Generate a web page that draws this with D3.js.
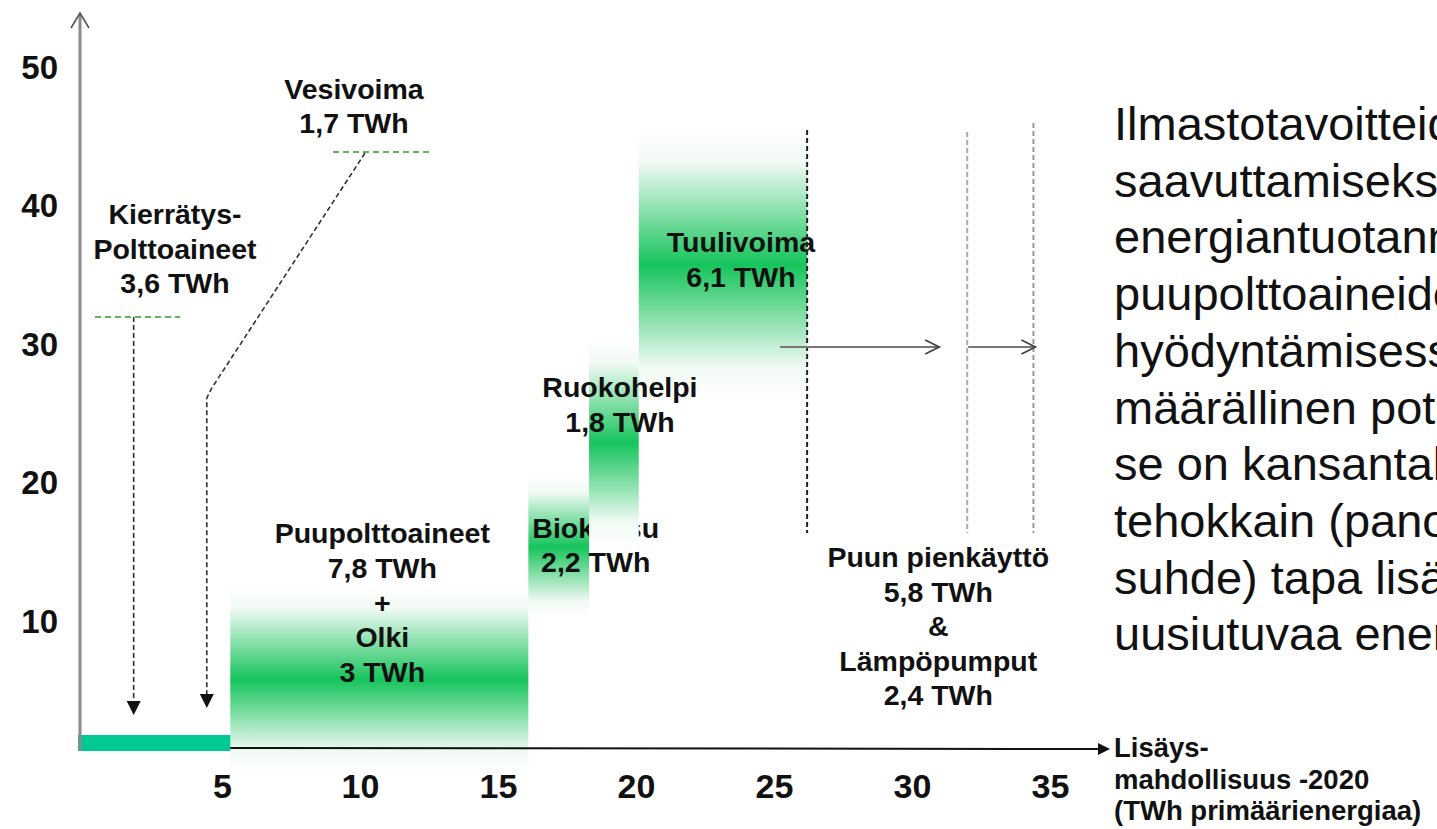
<!DOCTYPE html>
<html>
<head>
<meta charset="utf-8">
<script src="https://cdn.jsdelivr.net/npm/d3@7"></script>
<style>
  html, body { margin: 0; padding: 0; background: #fff; overflow: hidden; }
  svg { display: block; }
  text { font-family: "Liberation Sans", Arial, Helvetica, sans-serif; fill: #111; }
</style>
</head>
<body>
<svg id="chart" width="1437" height="829"></svg>
<script>
// Renewable energy additions up to 2020, TWh of primary energy, stacked along the x axis
const sources      = ["Kierrätyspolttoaineet", "Vesivoima", "Puupolttoaineet", "Olki", "Biokaasu", "Ruokohelpi", "Tuulivoima", "Puun pienkäyttö", "Lämpöpumput"];
const potentialTWh = [3.6, 1.7, 7.8, 3, 2.2, 1.8, 6.1, 5.8, 2.4];

// Fuzzy bands: which sources each band spans, and its vertical extent in axis units
const bandFirst = [2, 4, 5, 6];
const bandLast  = [3, 4, 5, 6];
const bandLow   = [-1, 10.2, 15.3, 26];
const bandHigh  = [12.6, 20.6, 30.5, 45.5];

const xTicks = [5, 10, 15, 20, 25, 30, 35];
const yTicks = [10, 20, 30, 40, 50];

const labelKierratys = ["Kierrätys-", "Polttoaineet", "3,6 TWh"];
const labelVesi      = ["Vesivoima", "1,7 TWh"];
const labelPuu       = ["Puupolttoaineet", "7,8 TWh", "+", "Olki", "3 TWh"];
const labelBio       = ["Biokaasu", "2,2 TWh"];
const labelRuoko     = ["Ruokohelpi", "1,8 TWh"];
const labelTuuli     = ["Tuulivoima", "6,1 TWh"];
const labelPien      = ["Puun pienkäyttö", "5,8 TWh", "&", "Lämpöpumput", "2,4 TWh"];
const axisTitle      = ["Lisäys-", "mahdollisuus -2020", "(TWh primäärienergiaa)"];
const sideText = [
  "Ilmastotavoitteiden",
  "saavuttamiseksi",
  "energiantuotannossa",
  "puupolttoaineiden",
  "hyödyntämisessä on",
  "määrällinen potentiaali ja",
  "se on kansantaloudellisesti",
  "tehokkain (panos/tuotos-",
  "suhde) tapa lisätä",
  "uusiutuvaa energiaa."
];

// ---- layout ----
const svg = d3.select("#chart");
const x = d3.scaleLinear().domain([0, 35]).range([84, 84 + 35 * 27.6]);
const y = d3.scaleLinear().domain([0, 50]).range([760, 67.5]);
const axisY = 748;          // baseline of the horizontal axis
const axisX = x(0) - 4;     // vertical axis position

const ends = Array.from(d3.cumsum(potentialTWh));
const starts = ends.map((e, i) => e - potentialTWh[i]);

const GREEN = "#16c45c";
const TEAL = "#00c994";

// vertical white-green-white fade
const defs = svg.append("defs");
const grad = defs.append("linearGradient").attr("id", "fade")
  .attr("x1", 0).attr("y1", 0).attr("x2", 0).attr("y2", 1);
[[0, "#ffffff"], [0.12, "#f1faf4"], [0.5, GREEN], [0.88, "#f1faf4"], [1, "#ffffff"]]
  .forEach(([o, c]) => grad.append("stop").attr("offset", o).attr("stop-color", c));

function multiline(g, lines, cx, firstBase, lh, size, anchor = "middle", weight = "bold") {
  const t = g.append("text")
    .attr("text-anchor", anchor)
    .attr("font-weight", weight)
    .attr("font-size", size);
  lines.forEach((s, i) => t.append("tspan").attr("x", cx).attr("y", firstBase + i * lh).text(s));
  return t;
}

function band(i) {
  const x0 = x(starts[bandFirst[i]]), x1 = x(ends[bandLast[i]]);
  svg.append("rect")
    .attr("x", x0).attr("width", x1 - x0)
    .attr("y", y(bandHigh[i])).attr("height", y(bandLow[i]) - y(bandHigh[i]))
    .attr("fill", "url(#fade)");
}

// ---- bands and their labels (drawing order matters for overlaps) ----
band(0);
band(1);
multiline(svg, labelBio, (x(starts[4]) + x(ends[4])) / 2 + 37, 538, 34, 28.5);
band(3);
band(2);
multiline(svg, labelPuu, (x(starts[2]) + x(ends[3])) / 2 + 3, 543, 34.8, 28.5);
multiline(svg, labelRuoko, (x(starts[5]) + x(ends[5])) / 2 + 6, 397, 35, 28.5);
multiline(svg, labelTuuli, (x(starts[6]) + x(ends[6])) / 2 + 18, 252, 35, 28.5);

// ---- axes ----
// teal bar for recycled fuels + hydro
svg.append("rect")
  .attr("x", axisX - 2).attr("width", x(ends[1]) - axisX + 2)
  .attr("y", axisY - 13).attr("height", 16)
  .attr("fill", TEAL);

// horizontal axis line with filled arrow
const xEnd = x(35) + 60;
svg.append("line")
  .attr("x1", x(ends[1])).attr("x2", xEnd - 8)
  .attr("y1", axisY).attr("y2", axisY + 1)
  .attr("stroke", "#111").attr("stroke-width", 2);
svg.append("path")
  .attr("d", `M${xEnd},${axisY + 1} L${xEnd - 12},${axisY - 5} L${xEnd - 12},${axisY + 7} Z`)
  .attr("fill", "#111");

// vertical axis with open arrow
svg.append("line")
  .attr("x1", axisX).attr("x2", axisX)
  .attr("y1", axisY + 3).attr("y2", 14)
  .attr("stroke", "#8a8a8a").attr("stroke-width", 3);
svg.append("path")
  .attr("d", `M${axisX - 9},${28} L${axisX},${13} L${axisX + 9},${28}`)
  .attr("fill", "none").attr("stroke", "#555").attr("stroke-width", 1.6);

const xAxis = svg.append("g")
  .attr("transform", `translate(0,${axisY})`)
  .call(d3.axisBottom(x).tickValues(xTicks).tickSize(0).tickPadding(26).tickFormat(d3.format("d")));
xAxis.select(".domain").remove();
xAxis.selectAll("text")
  .attr("font-size", 34).attr("font-weight", "bold").attr("fill", "#111")
  .style("font-family", '"Liberation Sans", Arial, sans-serif');

const yAxis = svg.append("g")
  .attr("transform", `translate(${axisX},0)`)
  .call(d3.axisLeft(y).tickValues(yTicks).tickSize(0).tickPadding(22).tickFormat(d3.format("d")));
yAxis.select(".domain").remove();
yAxis.selectAll("text")
  .attr("font-size", 33).attr("font-weight", "bold").attr("fill", "#111")
  .style("font-family", '"Liberation Sans", Arial, sans-serif');

multiline(svg, axisTitle, x(35) + 64, 757, 31.5, 27.5, "start");

// ---- annotations for recycled fuels and hydro ----
const midK = x(starts[0] + potentialTWh[0] / 2);
const midV = x(starts[1] + potentialTWh[1] / 2);

multiline(svg, labelKierratys, 175, 224, 34.5, 28.5);
multiline(svg, labelVesi, 354, 99, 34, 28.5);

svg.append("line").attr("x1", 95).attr("x2", 180).attr("y1", 317).attr("y2", 317)
  .attr("stroke", "#5cb85c").attr("stroke-width", 2).attr("stroke-dasharray", "6,4");
svg.append("line").attr("x1", 333).attr("x2", 430).attr("y1", 152).attr("y2", 152)
  .attr("stroke", "#5cb85c").attr("stroke-width", 2).attr("stroke-dasharray", "6,4");

const dashed = { stroke: "#333", "stroke-width": 1.6, "stroke-dasharray": "5,3", fill: "none" };
function styled(sel, o) { Object.entries(o).forEach(([k, v]) => sel.attr(k, v)); return sel; }

const tipK = 715, tipV = 708;
styled(svg.append("path").attr("d", `M${midK},317 L${midK},${tipK - 12}`), dashed);
styled(svg.append("path").attr("d", `M365,153 L${midV + 5},388 L${midV},398 L${midV},${tipV - 12}`), dashed);
[[midK, tipK], [midV, tipV]].forEach(([cx, tip]) =>
  svg.append("path")
    .attr("d", `M${cx - 7},${tip - 14} L${cx + 7},${tip - 14} L${cx},${tip} Z`)
    .attr("fill", "#111"));

// ---- small-scale wood use & heat pumps ----
const vTop = 130, vBottom = 533;
[[ends[6], "#222", vTop], [ends[7], "#aaa", vTop + 2], [ends[8], "#999", vTop - 7]].forEach(([v, c, top]) =>
  svg.append("line")
    .attr("x1", x(v)).attr("x2", x(v)).attr("y1", top).attr("y2", vBottom)
    .attr("stroke", c).attr("stroke-width", 2).attr("stroke-dasharray", "5,3"));

const arrowY = 347;
[[x(ends[6]) - 27, x(ends[7]) - 28], [x(ends[7]) + 1, x(ends[8]) + 2]].forEach(([a, b]) => {
  svg.append("line").attr("x1", a).attr("x2", b).attr("y1", arrowY).attr("y2", arrowY)
    .attr("stroke", "#777").attr("stroke-width", 2.2);
  svg.append("path")
    .attr("d", `M${b - 14},${arrowY - 7} L${b},${arrowY} L${b - 14},${arrowY + 7}`)
    .attr("fill", "none").attr("stroke", "#444").attr("stroke-width", 1.8);
});

multiline(svg, labelPien, (x(starts[7]) + x(ends[8])) / 2 + 18, 567, 34.5, 28.5);

// ---- side text (runs past the right edge) ----
multiline(svg, sideText, 1114, 140, 56.7, 47, "start", "normal");
</script>
</body>
</html>
